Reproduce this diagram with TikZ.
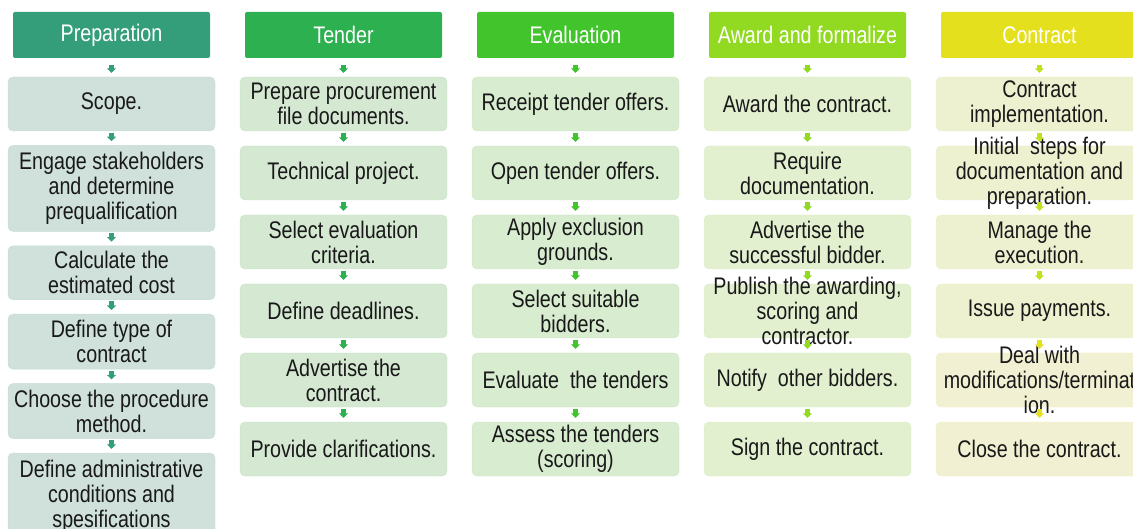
\documentclass[tikz,border=0pt]{standalone}
\usepackage{fontspec}
\newfontfamily\boxfont[FakeStretch=0.82]{Liberation Sans}
\usetikzlibrary{positioning,arrows.meta}

\definecolor{prepdark}{RGB}{52,158,122}
\definecolor{prepbox}{RGB}{207,225,218}
\definecolor{tenddark}{RGB}{44,176,80}
\definecolor{tendbox}{RGB}{212,232,210}
\definecolor{evaldark}{RGB}{66,196,44}
\definecolor{evalbox}{RGB}{216,236,208}
\definecolor{awarddark}{RGB}{146,218,34}
\definecolor{awardbox}{RGB}{226,240,208}
\definecolor{contdark}{RGB}{228,224,30}
\definecolor{contlime}{RGB}{192,226,30}
\definecolor{contbox}{RGB}{238,241,208}
\definecolor{contboxb}{RGB}{242,240,210}

\begin{document}
\begin{tikzpicture}[x=1pt, y=1pt, node distance=69pt, on grid,
                    font=\boxfont\fontsize{24}{25}\selectfont, text=black!90]
    \tikzstyle{phase} = [rectangle, rounded corners=2pt, minimum width=197pt,
                         minimum height=46pt, inner sep=3pt, text=white]
    \tikzstyle{task} = [rectangle, rounded corners=5pt, minimum width=207pt,
                        minimum height=54pt, inner sep=3pt, align=center]
    \tikzstyle{preptask} = [task, fill=prepbox, draw=prepbox!92!prepdark]
    \tikzstyle{tendtask} = [task, fill=tendbox, draw=tendbox!92!tenddark]
    \tikzstyle{evaltask} = [task, fill=evalbox, draw=evalbox!92!evaldark]
    \tikzstyle{awardtask} = [task, fill=awardbox, draw=awardbox!92!awarddark]
    \tikzstyle{conttask} = [task, fill=contbox, draw=contbox!92!contdark]
    \tikzstyle{flow} = [line width=5pt, -{Triangle[width=9pt,length=4.5pt]},
                        shorten <=1.5pt, shorten >=4pt]
    \tikzstyle{topflow} = [flow, shorten <=7pt]

    \useasboundingbox (0,0) rectangle (1133,-529);
    \clip (0,0) rectangle (1133,-529);

    % phase headers
    \node (prep)     [phase, fill=prepdark] at (111.5,-35) {Preparation};
    \node (tender)   [phase, fill=tenddark, right=232pt of prep] {Tender};
    \node (eval)     [phase, fill=evaldark, right=232pt of tender] {Evaluation};
    \node (award)    [phase, fill=awarddark, right=232pt of eval] {Award and formalize};
    \node (contract) [phase, fill=contdark, right=232pt of award] {Contract};

    % preparation
    \node (scope)    [preptask, below=of prep] {Scope.};
    \node (engage)   [preptask, minimum height=86pt, on grid=false, below=14pt of scope]
                     {Engage stakeholders\\and determine\\prequalification};
    \node (estimate) [preptask, on grid=false, below=14pt of engage] {Calculate the\\estimated cost};
    \node (ctype)    [preptask, minimum height=55pt, on grid=false, below=14pt of estimate] {Define type of\\contract};
    \node (method)   [preptask, minimum height=55pt, on grid=false, below=14pt of ctype] {Choose the procedure\\method.};
    \node (admin)    [preptask, minimum height=86pt, on grid=false, below=14pt of method]
                     {Define administrative\\conditions and\\spesifications};

    % tender
    \node (prepfile)  [tendtask, below=of tender] {Prepare procurement\\file documents.};
    \node (techproj)  [tendtask, below=of prepfile] {Technical project.};
    \node (criteria)  [tendtask, below=of techproj] {Select evaluation\\criteria.};
    \node (deadlines) [tendtask, below=of criteria] {Define deadlines.};
    \node (advert)    [tendtask, below=of deadlines] {Advertise the\\contract.};
    \node (clarify)   [tendtask, below=of advert] {Provide clarifications.};

    % evaluation
    \node (receipt)   [evaltask, below=of eval] {Receipt tender offers.};
    \node (opening)   [evaltask, below=of receipt] {Open tender offers.};
    \node (exclusion) [evaltask, below=of opening] {Apply exclusion\\grounds.};
    \node (suitable)  [evaltask, below=of exclusion] {Select suitable\\bidders.};
    \node (evaluate)  [evaltask, below=of suitable] {Evaluate\ \ the tenders};
    \node (assess)    [evaltask, below=of evaluate] {Assess the tenders\\(scoring)};

    % award and formalize
    \node (awarding) [awardtask, below=of award] {Award the contract.};
    \node (reqdoc)   [awardtask, below=of awarding] {Require\\documentation.};
    \node (winner)   [awardtask, below=of reqdoc] {Advertise the\\successful bidder.};
    \node (publish)  [awardtask, below=of winner,
                      label={[align=center]center:{Publish the awarding,\\scoring and\\contractor.}}] {};
    \node (notify)   [awardtask, below=of publish] {Notify\ \ other bidders.};
    \node (sign)     [awardtask, below=of notify] {Sign the contract.};

    % contract
    \node (implement) [conttask, below=of contract] {Contract\\implementation.};
    \node (initial)   [conttask, below=of implement,
                       label={[align=center]center:{Initial\ \ steps for\\documentation and\\preparation.}}] {};
    \node (execution) [conttask, below=of initial] {Manage the\\execution.};
    \node (payments)  [conttask, below=of execution] {Issue payments.};
    \node (modify)    [conttask, fill=contboxb, below=of payments,
                       label={[align=center]center:{Deal with\\modifications/terminat\\ion.}}] {};
    \node (closing)   [conttask, fill=contboxb, below=of modify] {Close the contract.};

    \draw [topflow, prepdark] (prep) -- (scope);
    \draw [flow, prepdark] (scope) -- (engage);
    \draw [flow, prepdark] (engage) -- (estimate);
    \draw [flow, prepdark] (estimate) -- (ctype);
    \draw [flow, prepdark] (ctype) -- (method);
    \draw [flow, prepdark] (method) -- (admin);

    \draw [topflow, tenddark] (tender) -- (prepfile);
    \draw [flow, tenddark] (prepfile) -- (techproj);
    \draw [flow, tenddark] (techproj) -- (criteria);
    \draw [flow, tenddark] (criteria) -- (deadlines);
    \draw [flow, tenddark] (deadlines) -- (advert);
    \draw [flow, tenddark] (advert) -- (clarify);

    \draw [topflow, evaldark] (eval) -- (receipt);
    \draw [flow, evaldark] (receipt) -- (opening);
    \draw [flow, evaldark] (opening) -- (exclusion);
    \draw [flow, evaldark] (exclusion) -- (suitable);
    \draw [flow, evaldark] (suitable) -- (evaluate);
    \draw [flow, evaldark] (evaluate) -- (assess);

    \draw [topflow, awarddark] (award) -- (awarding);
    \draw [flow, awarddark] (awarding) -- (reqdoc);
    \draw [flow, awarddark] (reqdoc) -- (winner);
    \draw [flow, awarddark] (winner) -- (publish);
    \draw [flow, awarddark] (publish) -- (notify);
    \draw [flow, awarddark] (notify) -- (sign);

    \draw [topflow, contlime] (contract) -- (implement);
    \draw [flow, contlime] (implement) -- (initial);
    \draw [flow, contlime] (initial) -- (execution);
    \draw [flow, contlime] (execution) -- (payments);
    \draw [flow, contdark] (payments) -- (modify);
    \draw [flow, contdark] (modify) -- (closing);
\end{tikzpicture}
\end{document}
